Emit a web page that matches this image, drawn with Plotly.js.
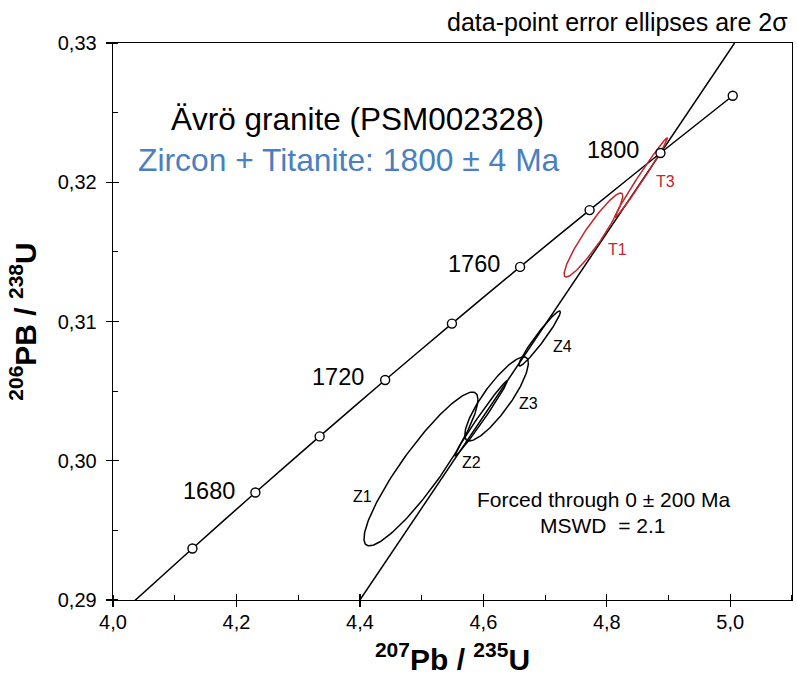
<!DOCTYPE html>
<html>
<head>
<meta charset="utf-8">
<script src="https://cdn.plot.ly/plotly-3.0.1.min.js"></script>
<style>html,body{margin:0;padding:0;background:#fff;}</style>
</head>
<body>
<div id="chart" style="width:797px;height:678px;"></div>
<script>
// Concordia curve (ages in Ma) and its ratios
const concordiaAges = [1640, 1660, 1680, 1700, 1720, 1740, 1760, 1780, 1800, 1820];
const concordiaX = [4.0287, 4.1287, 4.2307, 4.3348, 4.4409, 4.5491, 4.6595, 4.7721, 4.8869, 5.0040];
const concordiaY = [0.28969, 0.29370, 0.29772, 0.30175, 0.30580, 0.30985, 0.31392, 0.31800, 0.32210, 0.32621];

// Age markers on the concordia
const markerAges = [1660, 1680, 1700, 1720, 1740, 1760, 1780, 1800, 1820];
const markerX = [4.1287, 4.2307, 4.3348, 4.4409, 4.5491, 4.6595, 4.7721, 4.8869, 5.0040];
const markerY = [0.29370, 0.29772, 0.30175, 0.30580, 0.30985, 0.31392, 0.31800, 0.32210, 0.32621];

// Age labels
const ageLabels = ['1680', '1720', '1760', '1800'];
const ageLabelX = [4.1555, 4.3644, 4.5849, 4.8103];
const ageLabelY = [0.29785, 0.30604, 0.31413, 0.32232];

// Discordia (forced through 0 Ma, upper intercept 1800 Ma)
const discordiaX = [4.400, 5.007];
const discordiaY = [0.2900, 0.3300];

// Grain analyses: 207Pb/235U, 2s error, 206Pb/238U, 2s error, error correlation
const grainNames = ['Z1', 'Z2', 'Z3', 'Z4', 'T1', 'T3'];
const grainX   = [4.4989, 4.5962, 4.6214, 4.6911, 4.7783, 4.8557];
const grainSX  = [0.0923, 0.0423, 0.0515, 0.0337, 0.0475, 0.0424];
const grainY   = [0.29941, 0.30304, 0.30444, 0.30878, 0.31621, 0.32034];
const grainSY  = [0.00552, 0.00269, 0.00302, 0.00198, 0.00302, 0.00284];
const grainRho = [0.904, 0.990, 0.855, 0.964, 0.930, 0.991];
const grainColor = ['#000000', '#000000', '#000000', '#000000', '#c1272d', '#c1272d'];
const grainLabelX = [4.4041, 4.5812, 4.6729, 4.7276, 4.8173, 4.8946];
const grainLabelY = [0.29742, 0.29986, 0.30408, 0.30819, 0.31519, 0.32004];

const FONT = 'Liberation Sans, Arial, Helvetica, sans-serif';

function ellipse(cx, sx, cy, sy, rho) {
  const xs = [], ys = [];
  const k = Math.sqrt(1 - rho * rho);
  for (let i = 0; i <= 180; i++) {
    const t = 2 * Math.PI * i / 180;
    xs.push(cx + sx * Math.cos(t));
    ys.push(cy + sy * (rho * Math.cos(t) + k * Math.sin(t)));
  }
  return {xs, ys};
}

const traces = [];
traces.push({
  x: concordiaX, y: concordiaY, mode: 'lines', type: 'scatter',
  line: {color: '#000', width: 1.5, shape: 'spline', smoothing: 0.6},
  hoverinfo: 'skip', showlegend: false
});
traces.push({
  x: discordiaX, y: discordiaY, mode: 'lines', type: 'scatter',
  line: {color: '#000', width: 1.5}, hoverinfo: 'skip', showlegend: false
});
grainNames.forEach((n, i) => {
  const e = ellipse(grainX[i], grainSX[i], grainY[i], grainSY[i], grainRho[i]);
  traces.push({
    x: e.xs, y: e.ys, mode: 'lines', type: 'scatter', name: n,
    line: {color: grainColor[i], width: 1.5}, hoverinfo: 'skip', showlegend: false
  });
});
traces.push({
  x: markerX, y: markerY, mode: 'markers', type: 'scatter', text: markerAges.map(String),
  marker: {symbol: 'circle', size: 9, color: '#fff', line: {color: '#000', width: 1.4}},
  hoverinfo: 'text', showlegend: false, cliponaxis: false
});
// dummy trace for the overlaid tick axes (inner half of crossing ticks)
traces.push({x: [null], y: [null], xaxis: 'x2', yaxis: 'y2', mode: 'markers', showlegend: false, hoverinfo: 'skip'});

const annotations = [];
ageLabels.forEach((t, i) => annotations.push({
  x: ageLabelX[i], y: ageLabelY[i], xref: 'x', yref: 'y', text: t, showarrow: false,
  font: {family: FONT, size: 23.5, color: '#000'}, xanchor: 'center', yanchor: 'middle'
}));
grainNames.forEach((t, i) => annotations.push({
  x: grainLabelX[i], y: grainLabelY[i], xref: 'x', yref: 'y', text: t, showarrow: false,
  font: {family: FONT, size: 16, color: grainColor[i]}, xanchor: 'center', yanchor: 'middle'
}));
annotations.push({
  x: 0.36, y: 0.8635, xref: 'paper', yref: 'paper', text: 'Ävrö granite (PSM002328)', showarrow: false,
  font: {family: FONT, size: 31.5, color: '#000'}, xanchor: 'center', yanchor: 'middle'
});
annotations.push({
  x: 0.3474, y: 0.7904, xref: 'paper', yref: 'paper', text: 'Zircon + Titanite: 1800 ± 4 Ma', showarrow: false,
  font: {family: FONT, size: 31.8, color: '#4a7fc1'}, xanchor: 'center', yanchor: 'middle'
});
annotations.push({
  x: 0.9975, y: 1.0377, xref: 'paper', yref: 'paper', text: 'data-point error ellipses are 2σ', showarrow: false,
  font: {family: FONT, size: 25, color: '#000'}, xanchor: 'right', yanchor: 'middle'
});
annotations.push({
  x: 0.7218, y: 0.1803, xref: 'paper', yref: 'paper', text: 'Forced through 0 ± 200 Ma', showarrow: false,
  font: {family: FONT, size: 21, color: '#000'}, xanchor: 'center', yanchor: 'middle'
});
annotations.push({
  x: 0.7204, y: 0.1342, xref: 'paper', yref: 'paper', text: 'MSWD\u00a0 = 2.1', showarrow: false,
  font: {family: FONT, size: 21, color: '#000'}, xanchor: 'center', yanchor: 'middle'
});

const axisCommon = {
  showgrid: false, zeroline: false, showline: true, linecolor: '#000', linewidth: 1.3, mirror: true,
  ticks: 'outside', ticklen: 6, tickwidth: 1.3, tickcolor: '#000',
  tickfont: {family: FONT, size: 20, color: '#000'}
};

const layout = {
  width: 797, height: 678,
  margin: {l: 113, r: 5, t: 43, b: 78, pad: 0},
  paper_bgcolor: '#fff', plot_bgcolor: '#fff',
  separators: ', ',
  showlegend: false,
  font: {family: FONT, color: '#000'},
  xaxis: Object.assign({}, axisCommon, {
    range: [4.0, 5.1], tick0: 4.0, dtick: 0.2, tickformat: '.1f', ticklabelstandoff: -2,
    minor: {dtick: 0.1, tick0: 4.0, ticks: 'inside', ticklen: 5, tickwidth: 1.1, tickcolor: '#000', showgrid: false},
    title: {text: '<b><sup>207</sup>Pb / <sup>235</sup>U</b>', font: {family: FONT, size: 30, color: '#000'}, standoff: 16}
  }),
  yaxis: Object.assign({}, axisCommon, {
    range: [0.29, 0.33], tick0: 0.29, dtick: 0.01, tickformat: '.2f', ticklabelstandoff: 5,
    minor: {dtick: 0.005, tick0: 0.29, ticks: 'inside', ticklen: 5, tickwidth: 1.1, tickcolor: '#000', showgrid: false},
    title: {text: '<b><sup>206</sup>PB / <sup>238</sup>U</b>', font: {family: FONT, size: 30, color: '#000'}, standoff: 12}
  }),
  xaxis2: {
    overlaying: 'x', anchor: 'y', side: 'bottom', range: [4.0, 5.1], tick0: 4.0, dtick: 0.2,
    ticks: 'inside', ticklen: 6, tickwidth: 1.3, tickcolor: '#000',
    showticklabels: false, showgrid: false, zeroline: false, showline: false
  },
  yaxis2: {
    overlaying: 'y', anchor: 'x', side: 'left', range: [0.29, 0.33], tick0: 0.29, dtick: 0.01,
    ticks: 'inside', ticklen: 6, tickwidth: 1.3, tickcolor: '#000',
    showticklabels: false, showgrid: false, zeroline: false, showline: false
  },
  annotations: annotations
};

Plotly.newPlot('chart', traces, layout, {displayModeBar: false, staticPlot: true});
</script>
</body>
</html>
